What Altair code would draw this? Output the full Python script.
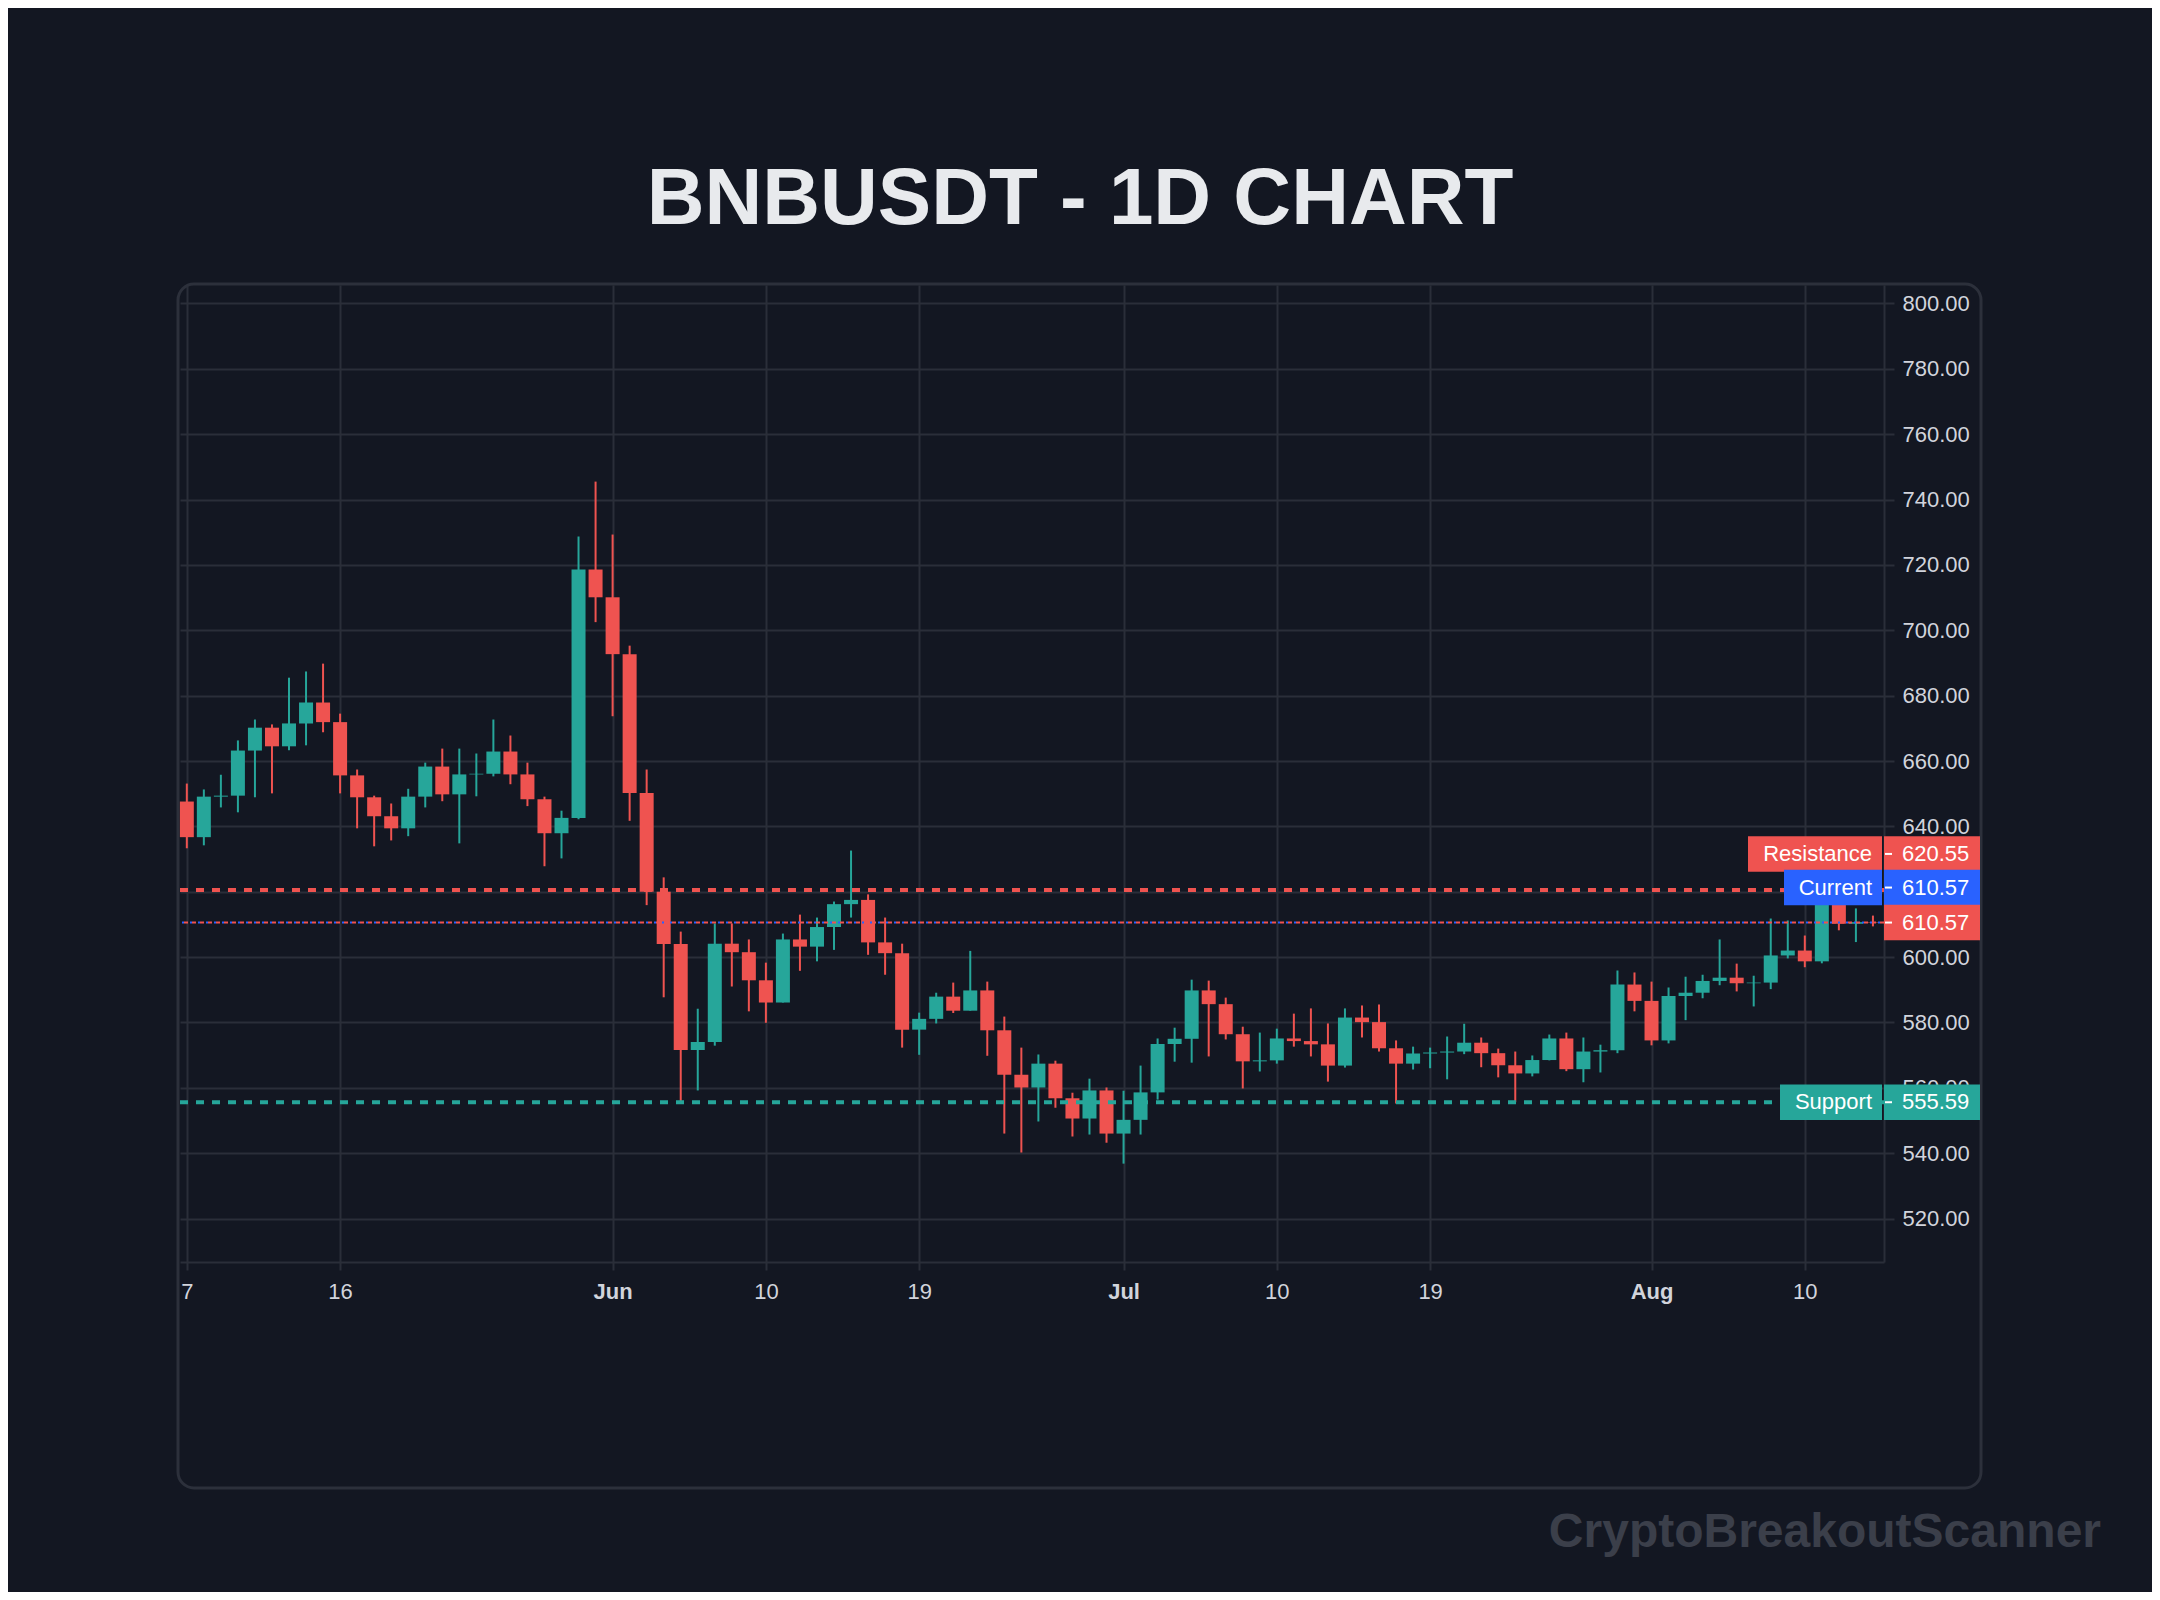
import altair as alt
import pandas as pd

# ---------------- data ----------------
START = "2024-05-07"
DATES = [d.strftime("%Y-%m-%d") for d in pd.date_range(START, periods=100, freq="D")]

OPEN = [647.6, 636.7, 649.1, 649.4, 663.2, 670.2, 664.5, 671.5, 677.9, 671.9,
        655.6, 648.9, 643.1, 639.4, 649.1, 658.3, 649.8, 655.9, 656.1, 662.9,
        655.9, 648.3, 637.9, 642.6, 718.6, 710.1, 692.7, 650.2, 620.0, 604.0,
        571.6, 574.0, 604.1, 601.5, 592.9, 586.1, 605.4, 603.2, 609.2, 616.2,
        617.5, 604.5, 601.2, 577.8, 581.1, 587.9, 583.6, 589.8, 577.6, 564.0,
        560.1, 567.4, 556.8, 550.6, 559.2, 546.0, 550.2, 558.6, 573.4, 575.0,
        589.8, 585.6, 576.4, 568.1, 568.4, 575.1, 574.3, 573.3, 566.8, 581.5,
        580.1, 572.1, 567.4, 570.5, 570.8, 571.1, 573.8, 570.6, 566.9, 564.4,
        568.5, 575.1, 565.7, 571.1, 571.5, 591.6, 586.6, 574.5, 588.1, 589.1,
        592.7, 593.7, 592.0, 592.2, 600.5, 602.0, 598.7, 616.4, 610.2, 610.7]
HIGH = [653.1, 651.3, 655.8, 666.3, 672.7, 671.2, 685.5, 687.4, 689.8, 674.5,
        657.4, 649.4, 647.0, 651.5, 659.5, 663.8, 663.8, 662.3, 672.7, 667.8,
        659.5, 649.1, 644.8, 728.7, 745.5, 729.3, 695.3, 657.4, 624.4, 607.8,
        584.2, 610.3, 610.3, 605.4, 598.3, 607.2, 613.0, 612.1, 617.0, 632.6,
        619.2, 612.1, 604.1, 583.0, 589.1, 592.2, 601.9, 592.5, 581.8, 572.3,
        570.2, 568.3, 558.5, 562.8, 560.1, 559.1, 566.8, 575.1, 578.4, 593.1,
        592.8, 587.6, 578.7, 576.9, 578.1, 582.7, 584.3, 579.7, 584.3, 585.2,
        585.5, 574.5, 572.6, 572.3, 575.7, 579.6, 575.4, 572.0, 571.1, 569.9,
        576.3, 576.9, 575.4, 573.2, 595.9, 595.3, 592.5, 590.7, 594.0, 594.6,
        605.4, 598.0, 594.3, 611.8, 611.2, 606.6, 617.3, 620.4, 614.9, 612.7]
LOW = [633.3, 634.2, 645.8, 644.3, 648.9, 650.1, 663.3, 664.8, 668.8, 650.1,
       639.4, 633.9, 635.7, 637.0, 645.8, 647.7, 634.8, 649.2, 655.3, 652.9,
       646.2, 627.8, 630.2, 642.2, 702.5, 673.7, 641.7, 615.9, 587.7, 555.9,
       559.2, 572.9, 591.0, 583.4, 579.9, 586.1, 595.8, 598.7, 602.2, 612.1,
       600.7, 594.6, 572.3, 570.1, 579.7, 582.9, 583.6, 569.8, 546.0, 540.2,
       549.7, 553.9, 545.1, 545.7, 543.2, 536.8, 545.7, 556.4, 568.0, 567.7,
       569.6, 574.8, 559.8, 565.0, 567.4, 572.6, 569.6, 561.9, 566.2, 575.4,
       571.1, 555.2, 565.6, 566.0, 562.6, 570.3, 566.3, 563.2, 555.6, 563.5,
       568.4, 565.1, 561.7, 564.7, 570.6, 583.4, 573.0, 573.6, 580.7, 587.4,
       591.4, 589.5, 584.9, 590.2, 599.6, 596.9, 598.1, 608.2, 604.6, 609.4]
CLOSE = [636.7, 649.1, 649.4, 663.2, 670.2, 664.5, 671.5, 677.9, 671.9, 655.6,
         648.9, 643.1, 639.4, 649.1, 658.3, 649.8, 655.9, 656.1, 662.9, 655.9,
         648.3, 637.9, 642.6, 718.6, 710.1, 692.7, 650.2, 620.0, 604.0, 571.6,
         574.0, 604.1, 601.5, 592.9, 586.1, 605.4, 603.2, 609.2, 616.2, 617.5,
         604.5, 601.2, 577.8, 581.1, 587.9, 583.6, 589.8, 577.6, 564.0, 560.1,
         567.4, 556.8, 550.6, 559.2, 546.0, 550.2, 558.6, 573.4, 575.0, 589.8,
         585.6, 576.4, 568.1, 568.4, 575.1, 574.3, 573.3, 566.8, 581.5, 580.1,
         572.1, 567.4, 570.5, 570.8, 571.1, 573.8, 570.6, 566.9, 564.4, 568.5,
         575.1, 565.7, 571.1, 571.5, 591.6, 586.6, 574.5, 588.1, 589.1, 592.7,
         593.7, 592.0, 592.2, 600.5, 602.0, 598.7, 616.4, 610.2, 610.7, 610.57]

RESISTANCE = 620.55
SUPPORT = 555.59
CURRENT = 610.57

Y_TICKS = [520, 540, 560, 580, 600, 620, 640, 660, 680, 700, 720, 740, 760, 780, 800]
X_TICK_DATES = ["2024-05-07", "2024-05-16", "2024-06-01", "2024-06-10", "2024-06-19",
                "2024-07-01", "2024-07-10", "2024-07-19", "2024-08-01", "2024-08-10"]

TITLE = "BNBUSDT - 1D CHART"
WATERMARK = "CryptoBreakoutScanner"

# ---------------- style ----------------
BG = "#131722"
GRID = "#2a2e39"
GREEN = "#26a69a"
RED = "#ef5350"
BLUE = "#2962ff"
LABEL = "#d1d4dc"
FONT = "Liberation Sans"

W, H = 1704, 977
DAY = 86400000


def ms(s):
    return int(pd.Timestamp(s, tz="UTC").timestamp() * 1000)


x_domain = [ms(START) - 0.40 * DAY, ms(START) + 99.65 * DAY]
y_scale = alt.Scale(domain=[506.7, 805.66], nice=False, zero=False, padding=0)

x_axis = alt.Axis(
    values=[ms(d) for d in X_TICK_DATES],
    labelExpr="utcdate(datum.value) == 1 ? utcFormat(datum.value, '%b') : '' + utcdate(datum.value)",
    labelFontWeight={"condition": {"test": "utcdate(datum.value) == 1", "value": "bold"}, "value": "normal"},
    labelFlush=False,
    tickSize=8,
    labelPadding=11,
    grid=True,
    title=None,
)
# the 620.00 price label sits fully under the "Current" tag, so it is left blank
y_axis = alt.Axis(orient="right", values=Y_TICKS, format=".2f", tickSize=10,
                  labelExpr="datum.value == 620 ? '' : datum.label",
                  labelPadding=8, grid=True, title=None, labelFlush=False)

x_enc = alt.X("date:T", scale=alt.Scale(type="utc", domain=x_domain, padding=0), axis=x_axis)


def yenc(field):
    return alt.Y(field, scale=y_scale, axis=y_axis)


df = pd.DataFrame({"date": DATES, "open": OPEN, "high": HIGH, "low": LOW, "close": CLOSE})
candle_color = alt.condition("datum.close >= datum.open", alt.value(GREEN), alt.value(RED))

base = alt.Chart(df).encode(x=x_enc, color=candle_color)
wicks = base.mark_rule(strokeWidth=2).encode(y=yenc("low:Q"), y2="high:Q")
bodies = base.mark_bar(width=14).encode(y=yenc("open:Q"), y2="close:Q")

one = pd.DataFrame({"k": [0]})

frame = alt.Chart(one).mark_rect(fill="transparent", stroke="#2c303b", strokeWidth=3,
                                 cornerRadius=16).encode(
    x=alt.value(-2), x2=alt.value(1801), y=alt.value(-1), y2=alt.value(1203))


def hline(price, color, width, dash, offset=0):
    return alt.Chart(pd.DataFrame({"price": [price]})).mark_rule(
        color=color, strokeWidth=width, strokeDash=dash, strokeDashOffset=offset
    ).encode(y=yenc("price:Q"))


lines = [
    hline(SUPPORT, GREEN, 4, [8, 8]),
    hline(RESISTANCE, RED, 4, [8, 8]),
    hline(CURRENT, BLUE, 2, [2, 6], 4),
    hline(CURRENT, RED, 2, [4, 4]),
]

# price labels: (name, price, colour, vertical shift px, left edge of name box)
LABELS = [
    ("Resistance", RESISTANCE, RED, -36, 1568),
    ("Current", CURRENT, BLUE, -35, 1604),
    ("", CURRENT, RED, 0, None),
    ("Support", SUPPORT, GREEN, 0, 1600),
]
BOX_H = 35.5
label_layers = []
for name, price, col, dy, left in LABELS:
    d = pd.DataFrame({"price": [price], "label": [name], "value": [f"{price:.2f}"]})
    c = alt.Chart(d)
    if left is not None:
        label_layers.append(c.mark_rect(color=col, yOffset=dy - BOX_H / 2, y2Offset=dy + BOX_H / 2).encode(
            x=alt.value(left), x2=alt.value(1702), y=yenc("price:Q"), y2="price:Q"))
        label_layers.append(c.mark_text(align="right", baseline="middle", dy=dy, fontSize=22,
                                        font=FONT, color="#ffffff").encode(
            x=alt.value(1692), y=yenc("price:Q"), text="label:N"))
    label_layers.append(c.mark_rect(color=col, yOffset=dy - BOX_H / 2, y2Offset=dy + BOX_H / 2).encode(
        x=alt.value(1704), x2=alt.value(1800), y=yenc("price:Q"), y2="price:Q"))
    label_layers.append(c.mark_rule(color="#ffffff", strokeWidth=2, yOffset=dy, y2Offset=dy).encode(
        x=alt.value(1705), x2=alt.value(1712), y=yenc("price:Q")))
    label_layers.append(c.mark_text(align="left", baseline="middle", dy=dy, fontSize=22,
                                    font=FONT, color="#ffffff").encode(
        x=alt.value(1722), y=yenc("price:Q"), text="value:N"))

title = alt.Chart(pd.DataFrame({"t": [TITLE]})).mark_text(
    align="center", baseline="alphabetic", fontSize=80, fontWeight="bold", font=FONT, color="#e8eaed"
).encode(x=alt.value(900), y=alt.value(-61), text="t:N")

watermark = alt.Chart(pd.DataFrame({"t": [WATERMARK]})).mark_text(
    align="right", baseline="alphabetic", fontSize=48, fontWeight="bold", font=FONT, color="#3b3f4a"
).encode(x=alt.value(1921), y=alt.value(1262), text="t:N")

chart = alt.layer(
    wicks, bodies, frame, *lines, *label_layers, title, watermark
).properties(
    width=W, height=H,
    padding={"left": 172, "top": 277, "right": 268, "bottom": 330},
    autosize=alt.AutoSizeParams(type="none"),
).configure(
    background=BG
).configure_view(
    strokeWidth=0
).configure_axis(
    domainColor=GRID, domainWidth=2, tickColor=GRID, tickWidth=2,
    gridColor=GRID, gridWidth=2, labelColor=LABEL, labelFont=FONT, labelFontSize=22,
)

chart.save("out.html", embed_options={"renderer": "svg", "actions": False})
